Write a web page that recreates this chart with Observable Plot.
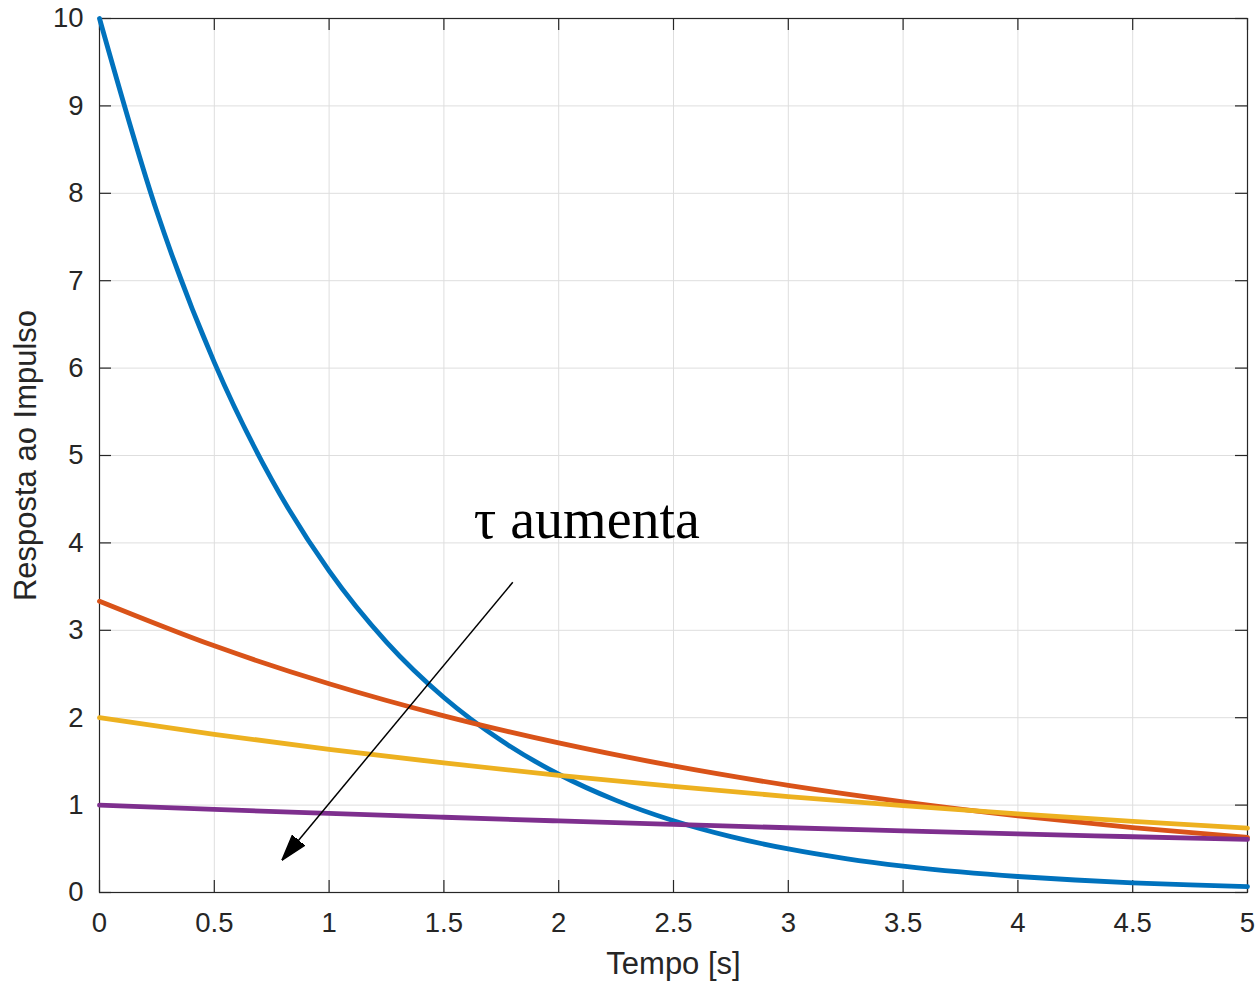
<!DOCTYPE html>
<html><head><meta charset="utf-8">
<script src="https://cdn.jsdelivr.net/npm/d3@7"></script>
<script src="https://cdn.jsdelivr.net/npm/@observablehq/plot@0.6"></script>
<style>body{margin:0;background:#fff} svg{display:block}</style>
</head><body><div id="chart"></div>
<script>
// ---- data ----
const tBlue   = [0,0.25,0.5,0.75,1,1.25,1.5,1.75,2,2.25,2.5,2.75,3,3.25,3.5,3.75,4,4.25,4.5,4.75,5];
const yBlue   = [10.0,7.788,6.065,4.724,3.679,2.865,2.231,1.738,1.353,1.054,0.821,0.639,0.498,0.388,0.302,0.235,0.183,0.143,0.111,0.087,0.067];
const tOther  = [0,0.5,1,1.5,2,2.5,3,3.5,4,4.5,5];
const yRed    = [3.333,2.822,2.388,2.021,1.711,1.448,1.226,1.038,0.878,0.743,0.630];
const yYellow = [2.000,1.810,1.637,1.482,1.341,1.213,1.098,0.993,0.899,0.813,0.736];
const yPurple = [1.000,0.951,0.905,0.861,0.819,0.779,0.741,0.705,0.670,0.638,0.607];
const seriesColors = ["#0072BD","#D95319","#EDB120","#7E2F8E"];

const xTicks = [0,0.5,1,1.5,2,2.5,3,3.5,4,4.5,5];
const xTickLabels = ["0","0.5","1","1.5","2","2.5","3","3.5","4","4.5","5"];
const yTicks = [0,1,2,3,4,5,6,7,8,9,10];
const yTickLabels = ["0","1","2","3","4","5","6","7","8","9","10"];
const xTitle = "Tempo [s]";
const yTitle = "Resposta ao Impulso";

const annotationText = ["τ aumenta"];
const annotationPos = [1.63, 4.06];
const arrowFrom = [1.80, 3.55];
const arrowTo   = [0.795, 0.37];

// ---- build ----
const W = 1256, H = 983;
const mL = 99, mR = 9, mT = 18, mB = 91;
const innerW = W - mL - mR, innerH = H - mT - mB;
const ink = "#262626";
const sans = "'Liberation Sans', Arial, Helvetica, sans-serif";
const tick = 12;

const mk = (ts, ys) => ts.map((t, i) => ({t, y: ys[i]}));
const series = [mk(tBlue, yBlue), mk(tOther, yRed), mk(tOther, yYellow), mk(tOther, yPurple)];

function arrowMarker(color, context) {
  const m = d3.create("svg:marker")
    .attr("viewBox", "0 -9 26 18")
    .attr("refX", 26).attr("refY", 0)
    .attr("markerWidth", 26).attr("markerHeight", 18)
    .attr("markerUnits", "userSpaceOnUse")
    .attr("orient", "auto");
  m.append("path").attr("d", "M0,-8L26,0L0,8Z").attr("fill", "black");
  return m.node();
}

const chart = Plot.plot({
  width: W, height: H,
  marginLeft: mL, marginRight: mR, marginTop: mT, marginBottom: mB,
  style: {fontFamily: sans, background: "#fff", color: ink},
  x: {domain: [0, 5]},
  y: {domain: [0, 10]},
  marks: [
    Plot.ruleX(xTicks, {x: d => d, stroke: "#dedede", strokeWidth: 1}),
    Plot.ruleY(yTicks, {y: d => d, stroke: "#dedede", strokeWidth: 1}),
    Plot.frame({stroke: ink, strokeWidth: 1.2}),
    Plot.ruleX(xTicks, {x: d => d, insetTop: innerH - tick, stroke: ink, strokeWidth: 1.2}),
    Plot.ruleX(xTicks, {x: d => d, insetBottom: innerH - tick, stroke: ink, strokeWidth: 1.2}),
    Plot.ruleY(yTicks, {y: d => d, insetRight: innerW - tick, stroke: ink, strokeWidth: 1.2}),
    Plot.ruleY(yTicks, {y: d => d, insetLeft: innerW - tick, stroke: ink, strokeWidth: 1.2}),
    Plot.axisX(xTicks, {tickSize: 0, tickPadding: 20, fontSize: 27.5, label: null,
      tickFormat: d => xTickLabels[xTicks.indexOf(d)], fill: ink}),
    Plot.axisY(yTicks, {tickSize: 0, tickPadding: 16, fontSize: 27.5, label: null,
      tickFormat: d => yTickLabels[yTicks.indexOf(d)], fill: ink}),
    ...series.map((s, i) => Plot.line(s, {x: "t", y: "y", stroke: seriesColors[i], strokeWidth: 4.8, curve: "monotone-x"})),
    Plot.link([0], {x1: () => arrowFrom[0], y1: () => arrowFrom[1], x2: () => arrowTo[0], y2: () => arrowTo[1],
      stroke: "black", strokeWidth: 1.5, markerEnd: arrowMarker}),
    Plot.text(annotationText, {x: annotationPos[0], y: annotationPos[1], textAnchor: "start", lineAnchor: "bottom",
      fontSize: 56, fontFamily: "'Liberation Serif', 'Times New Roman', serif", fill: "black"}),
    Plot.text([xTitle], {frameAnchor: "bottom", dy: 81, textAnchor: "middle", lineAnchor: "bottom", fontSize: 31, fill: ink}),
    Plot.text([yTitle], {frameAnchor: "left", dx: -64, rotate: -90, textAnchor: "middle", lineAnchor: "bottom", fontSize: 31, fill: ink})
  ]
});
document.getElementById("chart").appendChild(chart);
</script>
</body></html>
